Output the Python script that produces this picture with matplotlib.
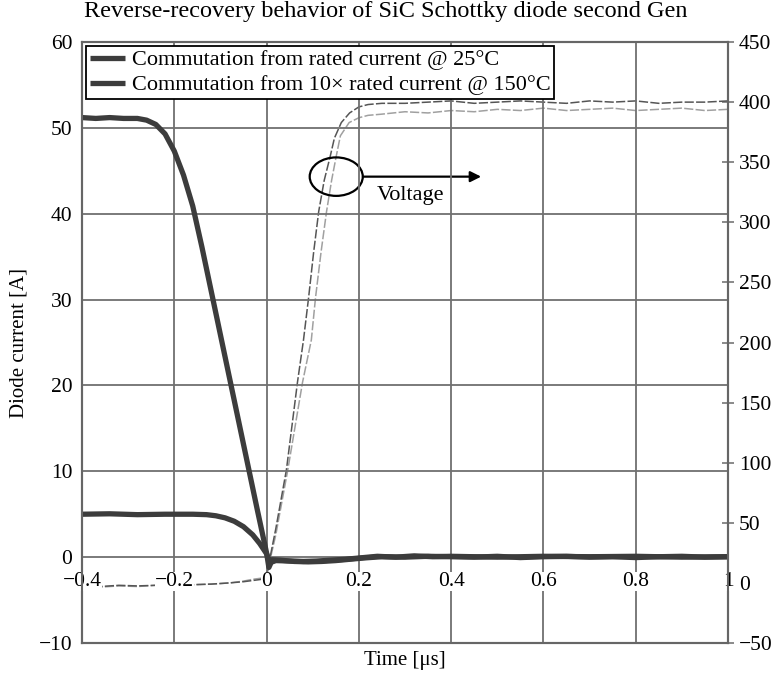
import matplotlib
matplotlib.use('Agg')
import matplotlib.pyplot as plt
from matplotlib.patches import Ellipse

plt.rcParams['font.family'] = ['Liberation Serif', 'DejaVu Serif']
plt.rcParams['font.size'] = 15

# diode current, rated current @ 25 C
t_i1 = [-0.40, -0.34, -0.28, -0.22, -0.16, -0.13, -0.11, -0.09, -0.07, -0.05,
        -0.03, -0.015, 0.0, 0.006, 0.012, 0.03, 0.06, 0.09, 0.12, 0.15, 0.18,
        0.21, 0.25, 0.30, 0.35, 0.40, 0.45, 0.50, 0.55, 0.60, 0.65, 0.70,
        0.75, 0.80, 0.85, 0.90, 0.95, 1.00]
i1 = [5.0, 5.05, 4.95, 5.0, 5.0, 4.95, 4.82, 4.58, 4.18, 3.55,
      2.6, 1.6, 0.4, -0.4, -0.3, -0.35, -0.5, -0.55, -0.5, -0.4, -0.25,
      -0.1, 0.05, 0.0, 0.1, 0.05, 0.0, 0.1, -0.05, 0.05, 0.1, 0.0,
      0.05, -0.05, 0.05, 0.1, 0.0, 0.05]

# diode current, 10x rated current @ 150 C
t_i2 = [-0.40, -0.37, -0.34, -0.31, -0.28, -0.26, -0.24, -0.22, -0.20, -0.18,
        -0.16, -0.14, -0.12, -0.10, -0.08, -0.06, -0.04, -0.02, 0.0, 0.005,
        0.01, 0.02, 0.05, 0.08, 0.11, 0.14, 0.17, 0.20, 0.24, 0.28, 0.32,
        0.36, 0.40, 0.50, 0.60, 0.70, 0.80, 0.90, 1.00]
i2 = [51.2, 51.1, 51.2, 51.1, 51.1, 50.9, 50.4, 49.3, 47.3, 44.5,
      40.9, 36.1, 31.0, 25.9, 20.8, 15.7, 10.6, 5.5, 0.5, -1.2,
      -0.6, -0.4, -0.45, -0.5, -0.45, -0.35, -0.25, -0.1, 0.1, 0.0, 0.15,
      0.05, 0.1, 0.0, 0.1, 0.05, 0.1, 0.0, 0.05]

# diode voltage (right axis)
t_v1 = [-0.40, -0.36, -0.32, -0.28, -0.24, -0.20, -0.16, -0.12, -0.08, -0.05,
        -0.03, -0.01, 0.0, 0.008, 0.02, 0.043, 0.067, 0.08, 0.091, 0.102,
        0.113, 0.125, 0.138, 0.147, 0.162, 0.18, 0.20, 0.22, 0.25, 0.30,
        0.35, 0.40, 0.45, 0.50, 0.55, 0.60, 0.65, 0.70, 0.75, 0.80, 0.85,
        0.90, 0.95, 1.00]
v1 = [-2, -3, -2, -2.5, -2, -1.5, -1.5, -1, 0, 1,
      2, 3, 6, 22, 45, 94, 167, 202, 237, 275,
      309, 335, 355, 370, 383, 391, 396, 398, 399, 399,
      400, 401, 399, 400, 401, 400, 399, 401, 400, 401, 399,
      400, 400, 401]

t_v2 = [-0.40, -0.36, -0.32, -0.28, -0.24, -0.20, -0.16, -0.12, -0.08, -0.05,
        -0.03, -0.01, 0.0, 0.008, 0.02, 0.046, 0.078, 0.097, 0.106, 0.118,
        0.13, 0.141, 0.151, 0.16, 0.179, 0.20, 0.22, 0.25, 0.30, 0.35,
        0.40, 0.45, 0.50, 0.55, 0.60, 0.65, 0.70, 0.75, 0.80, 0.85, 0.90,
        0.95, 1.00]
v2 = [-3, -3.5, -2.5, -3, -2, -2, -1.5, -1, 0, 1.5,
      3, 4, 6, 20, 40, 94, 167, 202, 237, 275,
      309, 335, 355, 372, 383, 387, 389, 390, 392, 391,
      393, 392, 394, 393, 395, 393, 394, 395, 393, 394, 395,
      393, 394]

labels = ['Commutation from rated current @ 25°C',
          'Commutation from 10× rated current @ 150°C']

fig = plt.figure(figsize=(7.72, 6.8), dpi=100)
ax = fig.add_axes([0.1062, 0.0544, 0.8368, 0.8838])
ax2 = ax.twinx()
ax.set_zorder(ax2.get_zorder() + 1)
ax.patch.set_visible(False)

# voltage traces
ax2.plot(t_v2, v2, color='#a0a0a0', lw=1.1, ls=(0, (6, 1.5)))
ax2.plot(t_v1, v1, color='#555555', lw=1.1, ls=(0, (6, 1.5)))
ax2.set_ylim(-50, 450)
ax2.set_yticks(range(-50, 451, 50))
ax2.set_yticklabels(['\u221250' if v < 0 else str(v) for v in range(-50, 451, 50)])
ax2.tick_params(axis='y', direction='inout', length=8, width=1.2,
                color='#777777', pad=4, labelsize=15.5)

# current traces
ax.plot(t_i1, i1, color='#3c3c3c', lw=3.8, solid_capstyle='butt', label=labels[0])
ax.plot(t_i2, i2, color='#3c3c3c', lw=3.8, solid_capstyle='butt', label=labels[1])

ax.set_xlim(-0.4, 1.0)
ax.set_ylim(-10, 60)
ax.set_yticks(range(-10, 61, 10))
ax.set_xticks([-0.4, -0.2, 0, 0.2, 0.4, 0.6, 0.8, 1.0])
ax.set_xticklabels(['\u22120.4', '\u22120.2', '0', '0.2', '0.4', '0.6', '0.8', '1'])
ax.set_yticklabels(['\u221210'] + [str(v) for v in range(0, 61, 10)])
ax.tick_params(axis='y', length=0, pad=7, labelsize=15.5)
ax.tick_params(axis='x', length=0, pad=-51, labelsize=15.5)
for lab in ax.get_xticklabels():
    lab.set_bbox(dict(facecolor='white', edgecolor='none', pad=0.2))

ax.grid(True, color='#707070', lw=1.3)
for a in (ax, ax2):
    for s in a.spines.values():
        s.set_color('#666666')
        s.set_linewidth(1.5)

ax.set_xlabel('Time [μs]', labelpad=6)
ax.set_ylabel('Diode current [A]', labelpad=7)
fig.suptitle('Reverse-recovery behavior of SiC Schottky diode second Gen',
             x=0.5, y=0.983, va='center', fontsize=17.5)

leg = ax.legend(loc='upper left', bbox_to_anchor=(0.0, 1.0), fancybox=False,
                edgecolor='black', framealpha=1, fontsize=16,
                handlelength=1.6, labelspacing=0.2, borderpad=0.15,
                handletextpad=0.3, borderaxespad=0.2)
leg.get_frame().set_linewidth(1.3)

# voltage annotation
ax2.add_patch(Ellipse((0.151, 338), width=0.115, height=32, fill=False,
                      edgecolor='black', lw=1.6, zorder=5))
ax2.annotate('', xy=(0.465, 338), xytext=(0.209, 338),
             arrowprops=dict(arrowstyle='-|>', color='black', lw=1.6,
                             mutation_scale=16, shrinkA=0, shrinkB=0))
ax2.text(0.238, 322, 'Voltage', fontsize=16, va='center', ha='left')

fig.savefig('out.png', dpi=100)
